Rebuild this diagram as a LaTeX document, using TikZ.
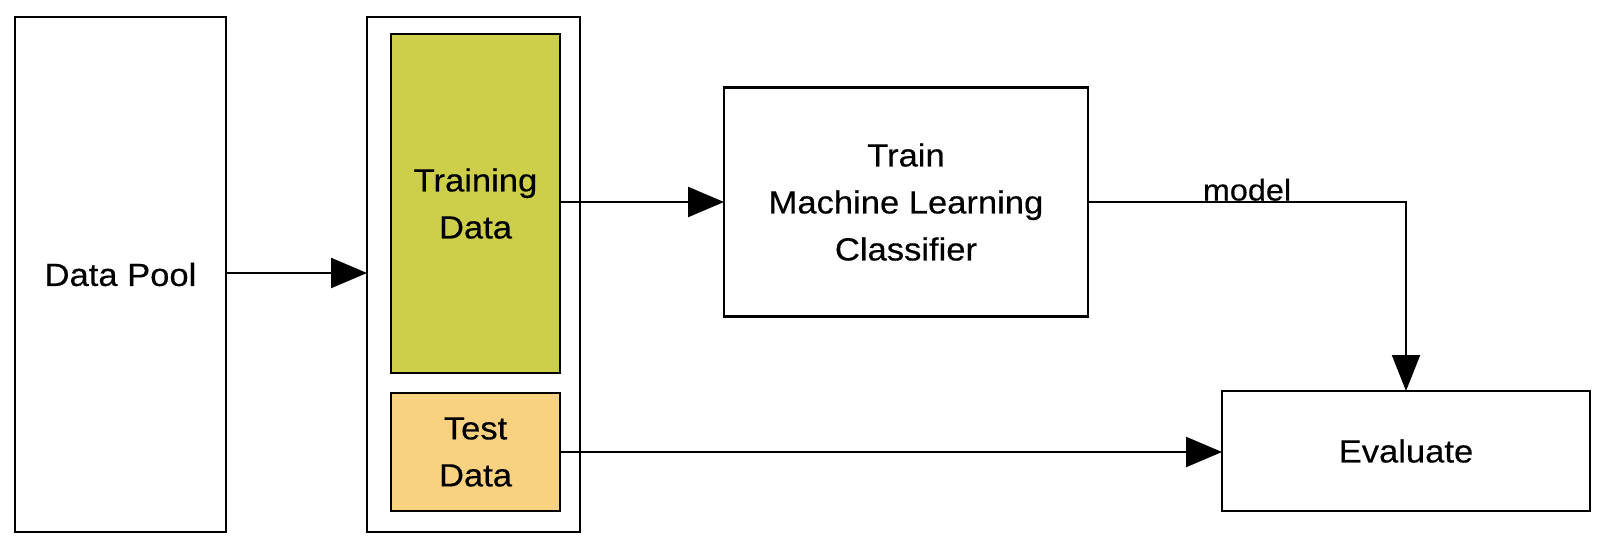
\documentclass[tikz,border=0pt]{standalone}
\usepackage{fontspec}
\setmainfont{Liberation Sans}[FakeStretch=1.08, FakeBold=0.4]
\usetikzlibrary{arrows.meta}
\definecolor{traingreen}{RGB}{205,207,75}
\definecolor{testorange}{RGB}{248,210,128}
\tikzset{
  x=1pt, y=1pt,
  boxnode/.style={draw=black, line width=2.6pt, fill=white, inner sep=0pt, outer sep=0pt,
    align=center, font=\fontsize{32}{47}\selectfont},
  arr/.style={line width=2.4pt, -{Triangle[length=36pt,width=30pt]}},
  thinarr/.style={line width=2.2pt, -{Triangle[length=36pt,width=28pt]}}
}
\begin{document}
\begin{tikzpicture}
\useasboundingbox (0,0) rectangle (1610,-546);
% boxes
\node[boxnode, minimum width=211pt, minimum height=515pt] (pool) at (120.5,-274.5) {Data Pool};
\node[boxnode, minimum width=213pt, minimum height=515pt] (split) at (473.5,-274.5) {};
\node[boxnode, fill=traingreen, line width=2.2pt, minimum width=169pt, minimum height=339pt] (train) at (475.5,-203.5) {Training\\Data};
\node[boxnode, fill=testorange, line width=2.2pt, minimum width=169pt, minimum height=118pt] (test) at (475.5,-452) {Test\\Data};
\node[boxnode, minimum width=364pt, minimum height=229pt] (clf) at (906,-202) {Train\\Machine Learning\\Classifier};
\node[boxnode, minimum width=368pt, minimum height=120pt] (eval) at (1406,-451) {Evaluate};
% connectors
\draw[arr] (pool.east |- 0,-273) -- (split.west |- 0,-273);
\draw[arr] (train.east |- 0,-202) -- (clf.west |- 0,-202);
\draw[thinarr] (clf.east) -| (eval.north) node[pos=0.25, anchor=base, inner sep=0pt, yshift=1.5pt, font=\fontsize{30}{34}\selectfont] (mlabel) {model};
\draw[arr] (test.east) -- (test.east -| eval.west);
\end{tikzpicture}
\end{document}
